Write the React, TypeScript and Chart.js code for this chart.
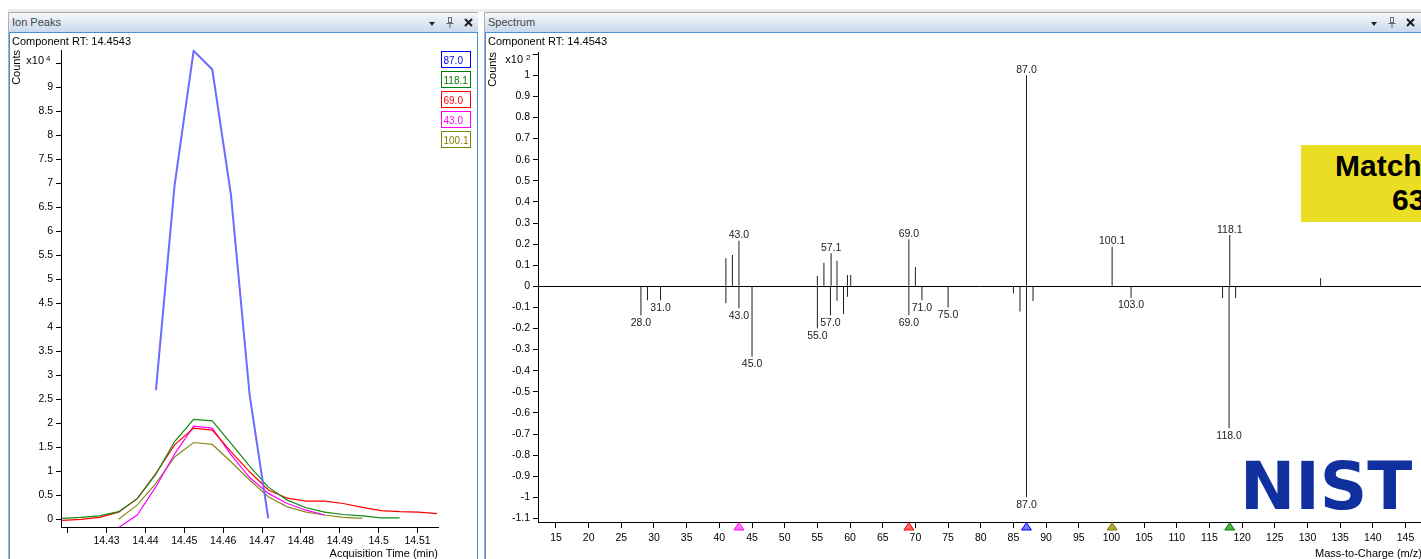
import React, { useEffect, useRef } from 'react';
import { Chart, registerables } from 'chart.js';

Chart.register(...registerables);

const FONT = '"Liberation Sans", Arial, Helvetica, sans-serif';
Chart.defaults.font.family = FONT;

// ---------------- Ion Peaks (extracted ion chromatograms, counts x10^4) ----------------
const scanTimes = [
  14.4186, 14.4234, 14.4282, 14.4331, 14.4379, 14.4427, 14.4475, 14.4524, 14.4572, 14.462,
  14.4668, 14.4716, 14.4765, 14.4813, 14.4861, 14.4909, 14.4958, 14.5006, 14.5054, 14.5102, 14.515,
];
const ionLabels = ['87.0', '118.1', '69.0', '43.0', '100.1'];
const ionMasses = [87.0, 118.1, 69.0, 43.0, 100.1];
const ion87 = [null, null, null, null, null, 2.69, 6.96, 9.76, 9.37, 6.76, 2.59, 0.02, null, null, null, null, null, null, null, null, null];
const ion118 = [0.02, 0.04, 0.07, 0.16, 0.43, 0.94, 1.62, 2.08, 2.05, 1.58, 1.11, 0.67, 0.4, 0.24, 0.15, 0.1, 0.07, 0.03, 0.03, null, null];
const ion69 = [-0.02, 0.0, 0.04, 0.15, 0.43, 0.96, 1.55, 1.9, 1.86, 1.41, 0.99, 0.61, 0.44, 0.38, 0.38, 0.33, 0.25, 0.18, 0.16, 0.15, 0.12];
const ion43 = [null, null, null, -0.17, 0.09, 0.68, 1.36, 1.94, 1.9, 1.35, 0.87, 0.54, 0.33, 0.19, 0.09, null, null, null, null, null, null];
const ion100 = [null, null, null, 0.0, 0.3, 0.75, 1.3, 1.6, 1.56, 1.2, 0.82, 0.47, 0.26, 0.15, 0.09, 0.04, 0.02, null, null, null, null];

const ionTextColors = ['#0000ff', '#008000', '#ff0000', '#ff00ff', '#808000'];
const ionTraceColors = ['#6b6bff', '#138a13', '#ff0000', '#ff00ff', '#8a8a1a'];
const ionTriFill = ['#7a7aff', '#4fb04f', '#ff6a6a', '#ff7aff', '#a8a83c'];

const countTicks = [0, 0.5, 1, 1.5, 2, 2.5, 3, 3.5, 4, 4.5, 5, 5.5, 6, 6.5, 7, 7.5, 8, 8.5, 9, 9.5];
const countTickLabels = ['0', '0.5', '1', '1.5', '2', '2.5', '3', '3.5', '4', '4.5', '5', '5.5', '6', '6.5', '7', '7.5', '8', '8.5', '9', ''];
const countExponent = '4';
const timeTicks = [14.42, 14.43, 14.44, 14.45, 14.46, 14.47, 14.48, 14.49, 14.5, 14.51];
const timeTickLabels = ['', '14.43', '14.44', '14.45', '14.46', '14.47', '14.48', '14.49', '14.5', '14.51'];

// ---------------- Spectrum (sample up, library down, counts x10^2) ----------------
const posMz = [41, 42, 43, 55, 56, 57.1, 58, 59.6, 60.1, 69, 70, 87, 100.1, 118.1, 132];
const posAbund = [0.133, 0.148, 0.216, 0.049, 0.112, 0.157, 0.121, 0.054, 0.054, 0.223, 0.092, 1.0, 0.188, 0.243, 0.038];
const posLabel = ['', '', '43.0', '', '', '57.1', '', '', '', '69.0', '', '87.0', '100.1', '118.1', ''];

const negMz = [28, 29, 31, 41, 43, 45, 55, 57, 58, 59, 59.6, 69, 71, 75, 85, 86, 87, 88, 103, 117, 118, 119];
const negAbund = [-0.137, -0.066, -0.066, -0.08, -0.104, -0.334, -0.199, -0.137, -0.068, -0.131, -0.05, -0.137, -0.066, -0.101, -0.034, -0.12, -1.0, -0.07, -0.054, -0.055, -0.673, -0.055];
const negLabel = ['28.0', '', '31.0', '', '43.0', '45.0', '55.0', '57.0', '', '', '', '69.0', '71.0', '75.0', '', '', '87.0', '', '103.0', '', '118.0', ''];

const abundTicks = [-1.1, -1, -0.9, -0.8, -0.7, -0.6, -0.5, -0.4, -0.3, -0.2, -0.1, 0, 0.1, 0.2, 0.3, 0.4, 0.5, 0.6, 0.7, 0.8, 0.9, 1, 1.1];
const abundTickLabels = ['-1.1', '-1', '-0.9', '-0.8', '-0.7', '-0.6', '-0.5', '-0.4', '-0.3', '-0.2', '-0.1', '0', '0.1', '0.2', '0.3', '0.4', '0.5', '0.6', '0.7', '0.8', '0.9', '1', ''];
const abundExponent = '2';
const mzTicks = [15, 20, 25, 30, 35, 40, 45, 50, 55, 60, 65, 70, 75, 80, 85, 90, 95, 100, 105, 110, 115, 120, 125, 130, 135, 140, 145];

const matchTitle = 'Match';
const matchScore = '63';

const TICK_FONT = { size: 10.5, family: FONT };

function drawExponent(chart: any, exp: string, dxBase: number, dyBase: number, dxSup: number, dySup: number) {
  const { ctx, chartArea } = chart;
  ctx.save();
  ctx.fillStyle = '#000';
  ctx.textBaseline = 'alphabetic';
  ctx.font = `11px ${FONT}`;
  ctx.textAlign = 'right';
  ctx.fillText('x10', chartArea.left + dxBase, chartArea.top + dyBase);
  ctx.font = `8px ${FONT}`;
  ctx.textAlign = 'left';
  ctx.fillText(exp, chartArea.left + dxSup, chartArea.top + dySup);
  ctx.restore();
}

const leftDecor = {
  id: 'leftDecor',
  afterDraw(chart: any) {
    drawExponent(chart, countExponent, -17, 14, -15, 10.5);
    const { ctx, chartArea } = chart;
    ctx.save();
    chart.data.datasets.forEach((ds: any, i: number) => {
      const x = Math.round(chartArea.right + 3) + 0.5;
      const y = Math.round(chartArea.top + 1 + i * 19.9) + 0.5;
      ctx.strokeStyle = ionTextColors[i];
      ctx.lineWidth = 1;
      ctx.strokeRect(x, y, 29, 16);
      ctx.fillStyle = ionTextColors[i];
      ctx.font = `10px ${FONT}`;
      ctx.textAlign = 'left';
      ctx.textBaseline = 'alphabetic';
      ctx.fillText(ds.label, x + 2, y + 12.5);
    });
    ctx.restore();
  },
};

const rightDecor = {
  id: 'rightDecor',
  afterDraw(chart: any) {
    const { ctx, chartArea, scales } = chart;
    drawExponent(chart, abundExponent, -15, 11, -12, 8);
    ctx.save();
    ctx.fillStyle = '#222';
    ctx.font = `10.5px ${FONT}`;
    ctx.textAlign = 'center';
    ctx.textBaseline = 'alphabetic';
    const labelSets = [posLabel, negLabel];
    [0, 1].forEach((di) => {
      const meta = chart.getDatasetMeta(di);
      meta.data.forEach((el: any, j: number) => {
        const txt = labelSets[di][j];
        if (!txt) return;
        if (di === 0) ctx.fillText(txt, el.x, el.y - 2.5);
        else ctx.fillText(txt, el.x, el.y + 10.5);
      });
    });
    // ion markers on the m/z axis
    const yb = chartArea.bottom;
    ionMasses.forEach((m, i) => {
      const x = scales.x.getPixelForValue(m);
      ctx.beginPath();
      ctx.moveTo(x, yb + 0.5);
      ctx.lineTo(x + 5, yb + 8);
      ctx.lineTo(x - 5, yb + 8);
      ctx.closePath();
      ctx.fillStyle = ionTriFill[i];
      ctx.fill();
      ctx.strokeStyle = ionTextColors[i];
      ctx.lineWidth = 1;
      ctx.stroke();
    });
    ctx.restore();
  },
};

function makeIonChart(canvas: HTMLCanvasElement) {
  const series = [ion87, ion118, ion69, ion43, ion100];
  const datasets = series.map((s, i) => ({
    label: ionLabels[i],
    data: scanTimes
      .map((t, k) => ({ x: t, y: s[k] }))
      .filter((p) => p.y !== null && p.y !== undefined),
    borderColor: ionTraceColors[i],
    borderWidth: i === 0 ? 2 : 1.2,
    pointRadius: 0,
    tension: 0,
    fill: false,
  }));
  return new Chart(canvas, {
    type: 'line',
    data: { datasets } as any,
    options: {
      responsive: false,
      animation: false,
      events: [],
      layout: { padding: { left: 0, top: 17, right: 38, bottom: 0 } },
      plugins: { legend: { display: false }, tooltip: { enabled: false } },
      scales: {
        x: {
          type: 'linear',
          min: 14.41828,
          max: 14.51526,
          afterBuildTicks: (s: any) => {
            s.ticks = timeTicks.map((v) => ({ value: v }));
          },
          afterFit: (s: any) => {
            s.height = 32;
          },
          border: { display: true, color: '#000', width: 1 },
          grid: { drawOnChartArea: false, drawTicks: true, tickLength: 6, tickColor: '#000', color: '#000' },
          ticks: {
            autoSkip: false,
            maxRotation: 0,
            minRotation: 0,
            padding: 2,
            color: '#000',
            font: TICK_FONT,
            callback: (_v: any, i: number) => timeTickLabels[i],
          },
          title: {
            display: true,
            text: 'Acquisition Time (min)',
            align: 'end',
            color: '#000',
            font: { size: 11, family: FONT, lineHeight: 1 },
            padding: 0,
          },
        },
        y: {
          type: 'linear',
          min: -0.16,
          max: 9.777,
          afterBuildTicks: (s: any) => {
            s.ticks = countTicks.map((v) => ({ value: v }));
          },
          afterFit: (s: any) => {
            s.width = 51;
          },
          border: { display: true, color: '#000', width: 1 },
          grid: { drawOnChartArea: false, drawTicks: true, tickLength: 5, tickColor: '#000', color: '#000' },
          ticks: {
            autoSkip: false,
            padding: 3,
            color: '#000',
            font: TICK_FONT,
            callback: (_v: any, i: number) => countTickLabels[i],
          },
          title: {
            display: true,
            text: 'Counts',
            align: 'end',
            color: '#000',
            font: { size: 11, family: FONT },
            padding: 0,
          },
        },
      },
    } as any,
    plugins: [leftDecor],
  });
}

function makeSpectrumChart(canvas: HTMLCanvasElement) {
  const common = {
    barThickness: 1,
    grouped: false,
    borderWidth: 0,
    inflateAmount: 0,
    backgroundColor: '#1e1e1e',
  };
  return new Chart(canvas, {
    type: 'bar',
    data: {
      datasets: [
        { label: 'sample', data: posMz.map((m, i) => ({ x: m, y: posAbund[i] })), ...common },
        { label: 'library', data: negMz.map((m, i) => ({ x: m, y: negAbund[i] })), ...common },
      ],
    } as any,
    options: {
      responsive: false,
      animation: false,
      events: [],
      layout: { padding: { left: 0, top: 19, right: 14, bottom: 0 } },
      plugins: { legend: { display: false }, tooltip: { enabled: false } },
      scales: {
        x: {
          type: 'linear',
          min: 12.25,
          max: 147.52,
          offset: false,
          afterBuildTicks: (s: any) => {
            s.ticks = mzTicks.map((v) => ({ value: v }));
          },
          afterFit: (s: any) => {
            s.height = 37;
          },
          border: { display: true, color: '#000', width: 1 },
          grid: { offset: false, drawOnChartArea: false, drawTicks: true, tickLength: 6, tickColor: '#000', color: '#000' },
          ticks: {
            autoSkip: false,
            maxRotation: 0,
            minRotation: 0,
            padding: 4,
            color: '#000',
            font: TICK_FONT,
            callback: (_v: any, i: number) => String(mzTicks[i]),
          },
          title: {
            display: true,
            text: 'Mass-to-Charge (m/z)',
            align: 'end',
            color: '#000',
            font: { size: 11, family: FONT, lineHeight: 1 },
            padding: 0,
          },
        },
        y: {
          type: 'linear',
          min: -1.117,
          max: 1.1104,
          afterBuildTicks: (s: any) => {
            s.ticks = abundTicks.map((v) => ({ value: v }));
          },
          afterFit: (s: any) => {
            s.width = 52;
          },
          border: { display: true, color: '#000', width: 1 },
          grid: {
            drawOnChartArea: true,
            drawTicks: true,
            tickLength: 5,
            tickColor: '#000',
            color: (c: any) => (c.tick && Math.abs(c.tick.value) < 1e-9 ? '#000' : 'rgba(0,0,0,0)'),
          },
          ticks: {
            autoSkip: false,
            padding: 3,
            color: '#000',
            font: TICK_FONT,
            callback: (_v: any, i: number) => abundTickLabels[i],
          },
          title: {
            display: true,
            text: 'Counts',
            align: 'end',
            color: '#000',
            font: { size: 11, family: FONT },
            padding: 0,
          },
        },
      },
    } as any,
    plugins: [rightDecor],
  });
}

function Pin({ left, top }: any) {
  return (
    <svg style={{ position: 'absolute', left, top }} width="8" height="11" viewBox="0 0 8 11">
      <rect x="2.5" y="0.5" width="3" height="5" fill="none" stroke="#6a6a6a" strokeWidth="1" />
      <line x1="0.5" y1="6.5" x2="7.5" y2="6.5" stroke="#6a6a6a" strokeWidth="1" />
      <line x1="4" y1="6.5" x2="4" y2="11" stroke="#6a6a6a" strokeWidth="1" />
    </svg>
  );
}

function CloseX({ left, top }: any) {
  return (
    <svg style={{ position: 'absolute', left, top }} width="9" height="9" viewBox="0 0 9 9">
      <line x1="1" y1="1" x2="8" y2="8" stroke="#1a1a1a" strokeWidth="2" />
      <line x1="8" y1="1" x2="1" y2="8" stroke="#1a1a1a" strokeWidth="2" />
    </svg>
  );
}

function TitleBar({ left, width, title, iconLeft }: any) {
  return (
    <div
      style={{
        position: 'absolute',
        left,
        top: 12,
        width,
        height: 21,
        borderTop: '1px solid #a8a8a8',
        boxSizing: 'border-box',
        background: 'linear-gradient(#f5f8fc, #c8d7ec)',
      }}
    >
      <span style={{ position: 'absolute', left: 3, top: 3, fontSize: 11, lineHeight: '13px', color: '#454545', whiteSpace: 'nowrap' }}>
        {title}
      </span>
      <div
        style={{
          position: 'absolute',
          left: iconLeft,
          top: 9,
          width: 0,
          height: 0,
          borderLeft: '3.5px solid transparent',
          borderRight: '3.5px solid transparent',
          borderTop: '4px solid #222',
        }}
      />
      <Pin left={iconLeft + 17} top={4} />
      <CloseX left={iconLeft + 35} top={5} />
    </div>
  );
}

export default function App() {
  const leftRef = useRef<HTMLCanvasElement>(null);
  const rightRef = useRef<HTMLCanvasElement>(null);

  useEffect(() => {
    document.body.style.margin = '0';
    const c1 = makeIonChart(leftRef.current as HTMLCanvasElement);
    const c2 = makeSpectrumChart(rightRef.current as HTMLCanvasElement);
    return () => {
      c1.destroy();
      c2.destroy();
    };
  }, []);

  return (
    <div
      style={{
        position: 'fixed',
        left: 0,
        top: 0,
        width: 1421,
        height: 559,
        overflow: 'hidden',
        background: '#fff',
        fontFamily: FONT,
      }}
    >
      <div style={{ position: 'absolute', left: 8, top: 9, width: 1413, height: 3, background: '#ececec' }} />
      <div style={{ position: 'absolute', left: 8, top: 12, width: 1, height: 547, background: '#b0b0b0' }} />
      <div style={{ position: 'absolute', left: 484, top: 12, width: 1, height: 547, background: '#b0b0b0' }} />

      <TitleBar left={9} width={469} title="Ion Peaks" iconLeft={420} />
      <TitleBar left={485} width={960} title="Spectrum" iconLeft={886} />

      <div style={{ position: 'absolute', left: 9, top: 32, width: 469, height: 540, border: '1px solid #4a8fdb', boxSizing: 'border-box', background: '#fff' }} />
      <div style={{ position: 'absolute', left: 485, top: 32, width: 1000, height: 540, border: '1px solid #4a8fdb', boxSizing: 'border-box', background: '#fff' }} />

      <canvas ref={leftRef} width={466} height={526} style={{ position: 'absolute', left: 10, top: 33, width: 466, height: 526 }} />
      <canvas ref={rightRef} width={950} height={526} style={{ position: 'absolute', left: 486, top: 33, width: 950, height: 526 }} />

      <div style={{ position: 'absolute', left: 12, top: 35, fontSize: 11, lineHeight: '13px', color: '#000', whiteSpace: 'nowrap' }}>
        Component RT: 14.4543
      </div>
      <div style={{ position: 'absolute', left: 488, top: 35, fontSize: 11, lineHeight: '13px', color: '#000', whiteSpace: 'nowrap' }}>
        Component RT: 14.4543
      </div>

      <div style={{ position: 'absolute', left: 1301, top: 145, width: 200, height: 77, background: '#ebdc24' }}>
        <span style={{ position: 'absolute', left: 34, top: 6, fontSize: 30, lineHeight: '30px', fontWeight: 'bold', color: '#000', whiteSpace: 'nowrap' }}>
          {matchTitle}
        </span>
        <span style={{ position: 'absolute', left: 91, top: 40, fontSize: 30, lineHeight: '30px', fontWeight: 'bold', color: '#000', whiteSpace: 'nowrap' }}>
          {matchScore}
        </span>
      </div>

      <div
        style={{
          position: 'absolute',
          left: 1240,
          top: 454,
          fontSize: 66,
          lineHeight: '66px',
          fontWeight: 'bold',
          fontFamily: '"DejaVu Sans", sans-serif',
          color: '#10309f',
          whiteSpace: 'nowrap',
          letterSpacing: 0,
        }}
      >
        NIST
      </div>
    </div>
  );
}
